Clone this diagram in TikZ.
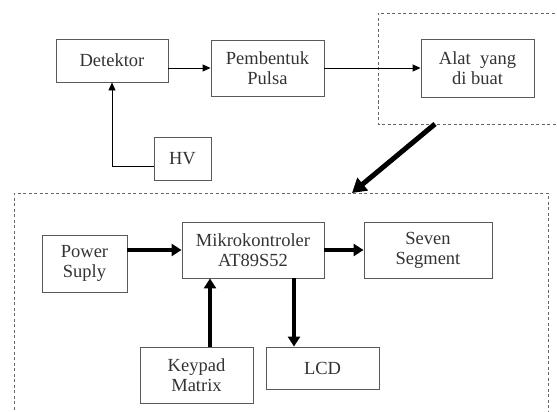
\documentclass[tikz,border=0pt]{standalone}
\usepackage{fontspec}
\setmainfont{Liberation Serif}
\usetikzlibrary{arrows.meta}
\begin{document}
\begin{tikzpicture}[x=1pt,y=-1pt,
  blk/.style={draw=black!65,line width=0.9pt,rectangle,inner sep=0pt,align=center,
    font=\fontsize{18.5}{20}\selectfont,text=black!80},
  thin/.style={line width=0.9pt,-{Triangle[length=8pt,width=7pt]}},
  thick/.style={line width=3.5pt,-{Triangle[length=10pt,width=12pt]}},
  dbox/.style={draw=black!60,line width=0.9pt,dash pattern=on 3pt off 2.5pt}]
\useasboundingbox (0,0) rectangle (557,412);
\node[blk,minimum width=112pt,minimum height=43pt] (det) at (112,60.5) {Detektor};
\node[blk,minimum width=113pt,minimum height=56pt] (pem) at (267.5,68) {Pembentuk\\Pulsa};
\node[blk,minimum width=113pt,minimum height=58pt] (alat) at (477.5,68) {Alat\ \ yang\\di buat};
\node[blk,minimum width=57pt,minimum height=43pt] (hv) at (182.5,158.5) {HV};
\node[blk,minimum width=85pt,minimum height=57pt] (pow) at (84.5,263.5) {Power\\Suply};
\node[blk,minimum width=142pt,minimum height=56pt] (mik) at (253,250) {Mikrokontroler\\AT89S52};
\node[blk,minimum width=128pt,minimum height=56pt] (sev) at (428,250) {Seven\\Segment};
\node[blk,minimum width=113pt,minimum height=56pt] (key) at (196.5,375) {Keypad\\Matrix};
\node[blk,minimum width=113pt,minimum height=42pt] (lcd) at (322.5,368) {LCD};
\draw[dbox] (560,13) -- (378,13) -- (378,124) -- (560,124);
\draw[dbox] (14,415) -- (14,193) -- (548,193) -- (548,415);
\coordinate (bs) at (435,124);
\coordinate (be) at (352,193);
\draw[line width=5pt,-{Triangle[length=14pt,width=16pt]}] (bs) -- (be);
\draw[thin] (det.east |- pem.west) -- (pem.west);
\draw[thin] (pem.east) -- (alat.west);
\draw[thin] ([yshift=-7.5pt]hv.west) -| (det.south);
\draw[thick] (pow.east |- mik.west) -- (mik.west);
\draw[thick] (mik.east) -- (sev.west);
\draw[thick] ([xshift=13.5pt]key.north) -- ([xshift=13.5pt]key.north |- mik.south);
\draw[thick] ([xshift=41pt]mik.south) -- ([xshift=41pt]mik.south |- lcd.north);
\end{tikzpicture}
\end{document}
